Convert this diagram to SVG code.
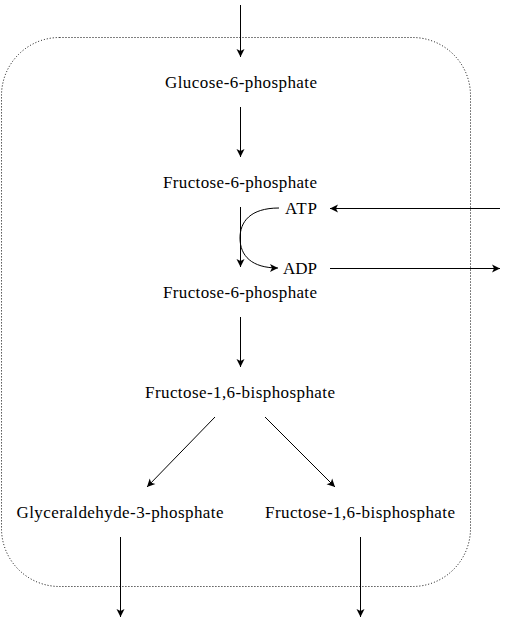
<svg xmlns="http://www.w3.org/2000/svg" width="509" height="626" viewBox="0 0 509 626">
<style>
text{font-family:"Liberation Serif","Times New Roman",serif;font-size:17px;fill:#000;text-anchor:middle}
.c{fill:none;stroke:#000;stroke-width:1}
</style>
<defs>
<marker id="a" markerWidth="10" markerHeight="10" refX="9" refY="5" orient="auto" markerUnits="userSpaceOnUse">
<path d="M1,1 L9,5 L1,9 L3,5 Z" fill="#000"/>
</marker>
</defs>
<rect x="1.5" y="37.5" width="469" height="549" rx="58" ry="58" fill="none" stroke="#000" stroke-dasharray="1,2"/>
<g id="nodes">
<g id="g6p"><text x="241" y="88" textLength="152" lengthAdjust="spacing">Glucose-6-phosphate</text></g>
<g id="f6p1"><text x="240" y="188" textLength="154" lengthAdjust="spacing">Fructose-6-phosphate</text></g>
<g id="atp"><text x="301" y="214" textLength="32" lengthAdjust="spacing">ATP</text></g>
<g id="adp"><text x="300" y="274" textLength="34" lengthAdjust="spacing">ADP</text></g>
<g id="f6p2"><text x="240" y="298" textLength="154" lengthAdjust="spacing">Fructose-6-phosphate</text></g>
<g id="f16bp"><text x="240" y="398" textLength="190" lengthAdjust="spacing">Fructose-1,6-bisphosphate</text></g>
<g id="g3p"><text x="120" y="518" textLength="207" lengthAdjust="spacing">Glyceraldehyde-3-phosphate</text></g>
<g id="f16bp2"><text x="360" y="518" textLength="190" lengthAdjust="spacing">Fructose-1,6-bisphosphate</text></g>
</g>
<g id="connectors">
<path class="c" d="M240.5,5 V57" marker-end="url(#a)"/>
<path class="c" d="M240.5,107 V157" marker-end="url(#a)"/>
<path class="c" d="M240.5,207 V267" marker-end="url(#a)"/>
<path class="c" d="M279,208 C250,208 240,222 240,238 C240,256 252,268 278,268" marker-end="url(#a)"/>
<path class="c" d="M500,208.5 H330" marker-end="url(#a)"/>
<path class="c" d="M330,268.5 H500" marker-end="url(#a)"/>
<path class="c" d="M240.5,317 V367" marker-end="url(#a)"/>
<path class="c" d="M215,417 L147,487" marker-end="url(#a)"/>
<path class="c" d="M265,417 L335,487" marker-end="url(#a)"/>
<path class="c" d="M120.5,537 V617" marker-end="url(#a)"/>
<path class="c" d="M360.5,537 V617" marker-end="url(#a)"/>
</g>
</svg>
